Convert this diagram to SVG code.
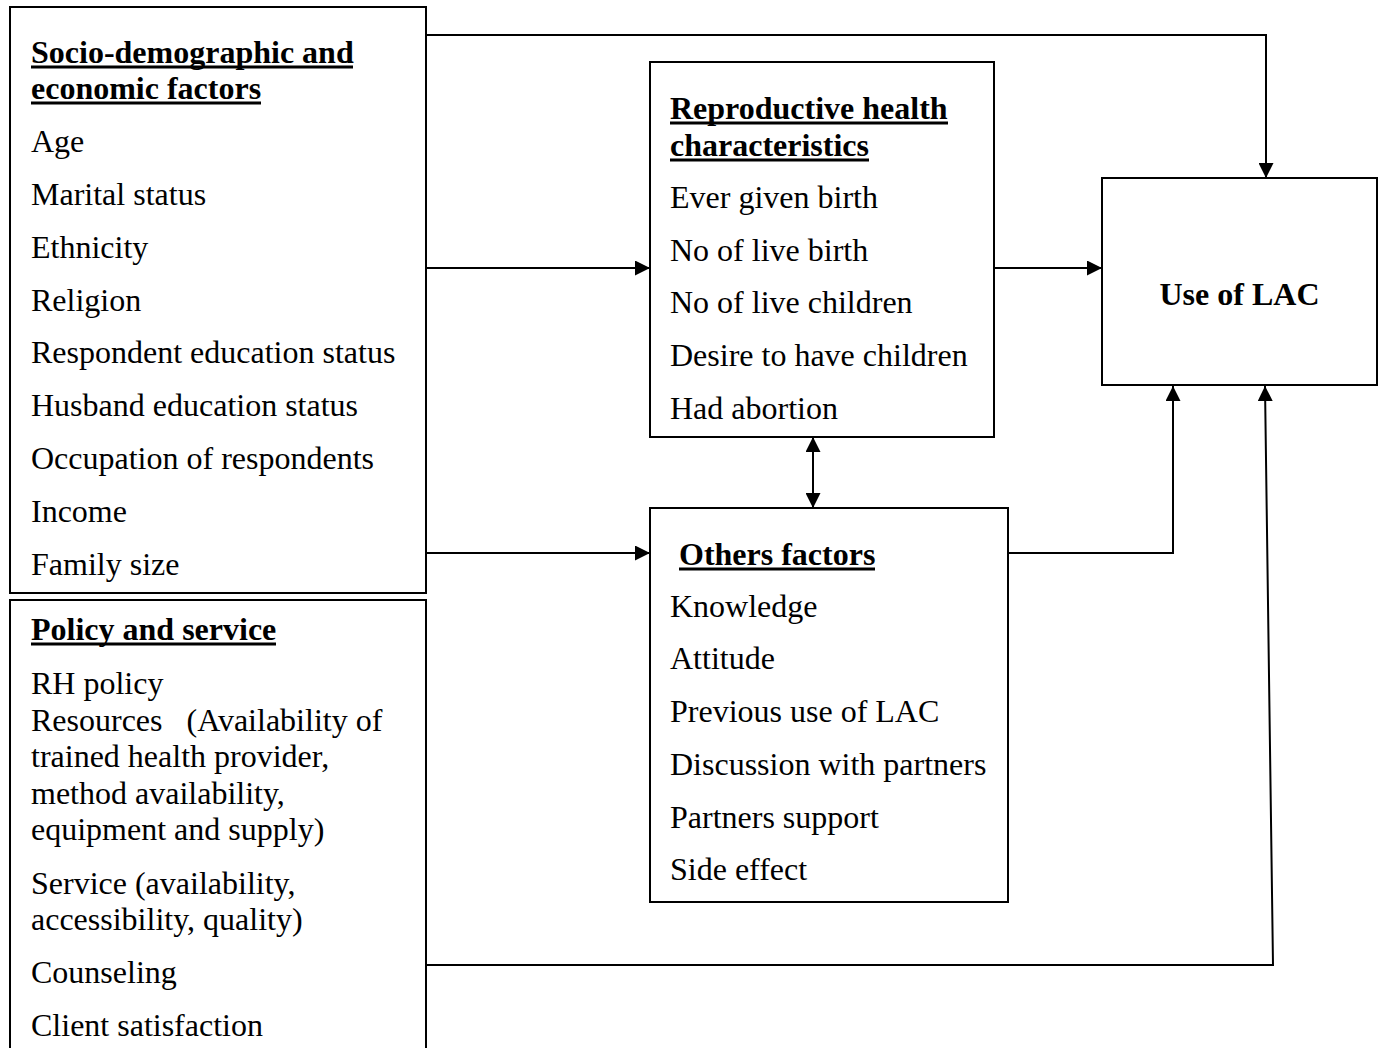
<svg xmlns="http://www.w3.org/2000/svg" width="1384" height="1048" viewBox="0 0 1384 1048">
<defs>
<style>
.box{fill:#fff;stroke:#000;stroke-width:2}
.t{font-family:"Liberation Serif","Times New Roman",serif;font-size:32px;fill:#000}
.h{font-family:"Liberation Serif","Times New Roman",serif;font-size:32px;font-weight:bold;fill:#000}
.ul{stroke:#000;stroke-width:3}
.c{fill:none;stroke:#000;stroke-width:2}
</style>
<marker id="arr" viewBox="0 0 10 10" refX="10" refY="5" markerWidth="15" markerHeight="15" markerUnits="userSpaceOnUse" orient="auto-start-reverse">
<path d="M0,0 L10,5 L0,10 z" fill="#000"/>
</marker>
</defs>
<rect width="1384" height="1048" fill="#fff"/>

<g id="connectors">
<polyline class="c" points="426,35 1266,35 1266,178" marker-end="url(#arr)"/>
<line class="c" x1="426" y1="268" x2="650" y2="268" marker-end="url(#arr)"/>
<line class="c" x1="994" y1="268" x2="1102" y2="268" marker-end="url(#arr)"/>
<line class="c" x1="813" y1="437" x2="813" y2="508" marker-start="url(#arr)" marker-end="url(#arr)"/>
<line class="c" x1="426" y1="553" x2="650" y2="553" marker-end="url(#arr)"/>
<polyline class="c" points="1008,553 1173,553 1173,386" marker-end="url(#arr)"/>
<polyline class="c" points="426,965 1273,965 1265,386" marker-end="url(#arr)"/>
</g>

<g id="socio">
<rect class="box" x="10" y="7" width="416" height="586"/>
<text class="h" x="31" y="63">Socio-demographic and</text>
<line class="ul" x1="31" y1="67" x2="353" y2="67"/>
<text class="h" x="31" y="99">economic factors</text>
<line class="ul" x1="31" y1="103" x2="261" y2="103"/>
<text class="t" x="31" y="152">Age</text>
<text class="t" x="31" y="205">Marital status</text>
<text class="t" x="31" y="258">Ethnicity</text>
<text class="t" x="31" y="311">Religion</text>
<text class="t" x="31" y="363">Respondent education status</text>
<text class="t" x="31" y="416">Husband education status</text>
<text class="t" x="31" y="469">Occupation of respondents</text>
<text class="t" x="31" y="522">Income</text>
<text class="t" x="31" y="575">Family size</text>
</g>

<g id="policy">
<rect class="box" x="10" y="600" width="416" height="470"/>
<text class="h" x="31" y="640">Policy and service</text>
<line class="ul" x1="31" y1="644" x2="276" y2="644"/>
<text class="t" x="31" y="694">RH policy</text>
<text class="t" x="31" y="731" xml:space="preserve">Resources   (Availability of</text>
<text class="t" x="31" y="767">trained health provider,</text>
<text class="t" x="31" y="804">method availability,</text>
<text class="t" x="31" y="840">equipment and supply)</text>
<text class="t" x="31" y="894">Service (availability,</text>
<text class="t" x="31" y="930">accessibility, quality)</text>
<text class="t" x="31" y="983">Counseling</text>
<text class="t" x="31" y="1036">Client satisfaction</text>
</g>

<g id="reproductive">
<rect class="box" x="650" y="62" width="344" height="375"/>
<text class="h" x="670" y="119">Reproductive health</text>
<line class="ul" x1="670" y1="123" x2="948" y2="123"/>
<text class="h" x="670" y="156">characteristics</text>
<line class="ul" x1="670" y1="160" x2="869" y2="160"/>
<text class="t" x="670" y="208">Ever given birth</text>
<text class="t" x="670" y="261">No of live birth</text>
<text class="t" x="670" y="313">No of live children</text>
<text class="t" x="670" y="366">Desire to have children</text>
<text class="t" x="670" y="419">Had abortion</text>
</g>

<g id="others">
<rect class="box" x="650" y="508" width="358" height="394"/>
<text class="h" x="679" y="565">Others factors</text>
<line class="ul" x1="679" y1="569" x2="875" y2="569"/>
<text class="t" x="670" y="617">Knowledge</text>
<text class="t" x="670" y="669">Attitude</text>
<text class="t" x="670" y="722">Previous use of LAC</text>
<text class="t" x="670" y="775">Discussion with partners</text>
<text class="t" x="670" y="828">Partners support</text>
<text class="t" x="670" y="880">Side effect</text>
</g>

<g id="use-lac">
<rect class="box" x="1102" y="178" width="275" height="207"/>
<text class="h" x="1239.5" y="305" text-anchor="middle">Use of LAC</text>
</g>
</svg>
